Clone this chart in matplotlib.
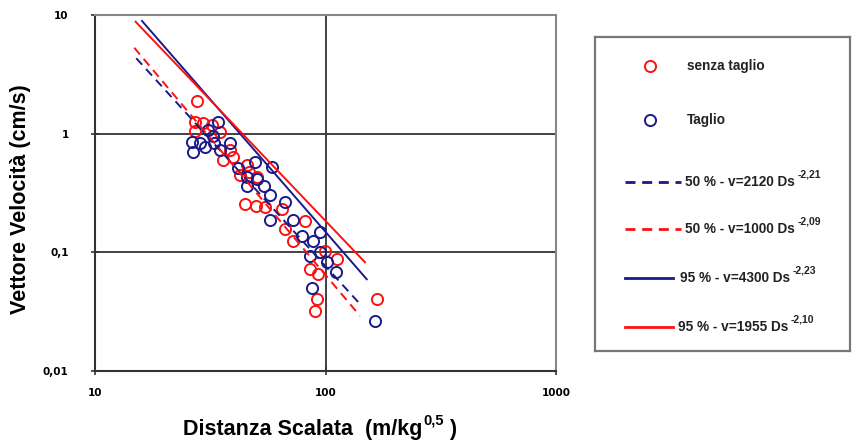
import matplotlib
matplotlib.use("Agg")
import matplotlib.pyplot as plt

plt.rcParams['font.family'] = ['Liberation Sans', 'DejaVu Sans']

# ---------------- data ----------------
senza_x = [27.7, 27.2, 29.4, 27.2, 32.2, 34.8, 35.9, 39.7, 38.5, 42.6, 45.6, 46.6,
           44.7, 49.9, 50.4, 54.6, 64.7, 66.7, 72.3, 81.5, 99.5, 112, 85.6, 92.8,
           91.8, 90.0, 167]
senza_y = [1.89, 1.26, 1.24, 1.06, 1.19, 1.04, 0.605, 0.641, 0.734, 0.452, 0.549, 0.479,
           0.253, 0.248, 0.435, 0.239, 0.230, 0.156, 0.124, 0.182, 0.102, 0.0874, 0.072, 0.0653,
           0.0403, 0.0319, 0.0403]

taglio_x = [34.2, 30.9, 32.5, 26.4, 28.5, 26.6, 30.0, 32.8, 38.5, 34.8, 49.4, 58.6,
            41.7, 45.6, 45.6, 50.4, 54.1, 57.4, 66.7, 57.4, 72.3, 79.1, 94.6, 88.2,
            85.6, 94.6, 101.5, 111, 87.4, 164]
taglio_y = [1.26, 1.08, 0.962, 0.857, 0.840, 0.706, 0.778, 0.840, 0.840, 0.734, 0.582, 0.528,
            0.518, 0.435, 0.359, 0.411, 0.359, 0.307, 0.268, 0.189, 0.189, 0.136, 0.147, 0.124,
            0.0926, 0.100, 0.0824, 0.0679, 0.0498, 0.0263]

# regression lines (end points)
blue50_x = [15.1, 143.5]
blue50_y = [4.32, 0.0354]
red50_x = [14.8, 141.0]
red50_y = [5.30, 0.0292]
blue95_x = [16.0, 151.0]
blue95_y = [8.90, 0.0593]
red95_x = [15.0, 148.4]
red95_y = [8.78, 0.0824]

x_ticks = [10, 100, 1000]
x_tick_labels = ['10', '100', '1000']
y_ticks = [0.01, 0.1, 1, 10]
y_tick_labels = ['0,01', '0,1', '1', '10']

legend_labels = ['senza taglio', 'Taglio', '50 % - v=2120 Ds', '50 % - v=1000 Ds',
                 '95 % - v=4300 Ds', '95 % - v=1955 Ds']
legend_sups = ['', '', '-2,21', '-2,09', '-2,23', '-2,10']

RED = '#ff1010'
BLUE = '#1a1a8a'

# ---------------- figure ----------------
W, H = 854, 446
fig = plt.figure(figsize=(W / 100, H / 100), dpi=100)
L, R, T, B = 95, 556, 15, 371
ax = fig.add_axes([L / W, 1 - B / H, (R - L) / W, (B - T) / H])
ax.set_xscale('log')
ax.set_yscale('log')
ax.set_xlim(10, 1000)
ax.set_ylim(0.01, 10)

# gridlines
for yv in [0.1, 1]:
    ax.axhline(yv, color='#333333', lw=1.3, zorder=1)
ax.axvline(100, color='#333333', lw=1.3, zorder=1)

ms = 8.0
mew = 1.4
ax.plot(senza_x, senza_y, 'o', mfc='none', mec=RED, ms=ms, mew=mew, zorder=3)
ax.plot(taglio_x, taglio_y, 'o', mfc='none', mec=BLUE, ms=ms, mew=mew, zorder=3)

ax.plot(blue50_x, blue50_y, color=BLUE, lw=1.4, dashes=(4.5, 3), zorder=4)
ax.plot(red50_x, red50_y, color=RED, lw=1.4, dashes=(4.5, 3), zorder=4)
ax.plot(blue95_x, blue95_y, color=BLUE, lw=1.4, zorder=4)
ax.plot(red95_x, red95_y, color=RED, lw=1.4, zorder=4)

ax.set_xticks(x_ticks)
ax.set_xticklabels(x_tick_labels)
ax.set_yticks(y_ticks)
ax.set_yticklabels(y_tick_labels)
ax.minorticks_off()
ax.tick_params(axis='both', which='major', direction='inout', length=6, width=1.2,
               color='#333333', labelsize=7.5)
ax.tick_params(axis='x', pad=9)
ax.tick_params(axis='y', pad=16)
for lab in ax.get_xticklabels() + ax.get_yticklabels():
    lab.set_fontweight('bold')
    lab.set_family('DejaVu Sans')

for s in ['left', 'bottom']:
    ax.spines[s].set_color('#333333')
    ax.spines[s].set_linewidth(1.5)
for s in ['top', 'right']:
    ax.spines[s].set_color('#888888')
    ax.spines[s].set_linewidth(1.5)

# axis labels
fig.text(21 / W, 1 - 199 / H, 'Vettore Velocità (cm/s)', rotation=90, ha='center',
         va='center', fontsize=15.5, fontweight='bold')
xl = fig.text(183 / W, 1 - 429 / H, 'Distanza Scalata  (m/kg', ha='left', va='center',
              fontsize=15.5, fontweight='bold')
sup = plt.annotate('0,5', xy=(1, 0.5), xycoords=xl, xytext=(1, 1), textcoords='offset points',
                   ha='left', va='bottom', fontsize=10.5, fontweight='bold')
plt.annotate(' )', xy=(1, 0.5), xycoords=(sup, xl), xytext=(0, 0), textcoords='offset points',
             ha='left', va='center', fontsize=15.5, fontweight='bold')

# legend box
LX0, LY0, LX1, LY1 = 595, 37, 850, 351
lax = fig.add_axes([LX0 / W, 1 - LY1 / H, (LX1 - LX0) / W, (LY1 - LY0) / H])
lax.set_xlim(0, LX1 - LX0)
lax.set_ylim(LY1 - LY0, 0)
lax.set_xticks([])
lax.set_yticks([])
for s in lax.spines.values():
    s.set_color('#777777')
    s.set_linewidth(1.6)

row_y = [29, 83, 145, 192, 241, 290]
styles = [('marker', RED), ('marker', BLUE), ('dash', BLUE), ('dash', RED),
          ('solid', BLUE), ('solid', RED)]
text_x = [92, 92, 90, 90, 85, 83]
for i, (kind, col) in enumerate(styles):
    y = row_y[i]
    if kind == 'marker':
        lax.plot([55], [y], 'o', mfc='none', mec=col, ms=ms, mew=mew)
    elif kind == 'dash':
        lax.plot([30, 86], [y, y], color=col, lw=2.0, dashes=(3.6, 2.4))
    else:
        lax.plot([30, 78], [y, y], color=col, lw=2.0)
    t = lax.text(text_x[i], y, legend_labels[i], ha='left', va='center', fontsize=9.8,
                 fontweight='bold', color='#222222')
    if legend_sups[i]:
        lax.annotate(legend_sups[i], xy=(1, 0.7), xycoords=t, xytext=(2, 0),
                     textcoords='offset points', ha='left', va='bottom', fontsize=7.5,
                     fontweight='bold', color='#222222')

fig.savefig('out.png', dpi=100)
